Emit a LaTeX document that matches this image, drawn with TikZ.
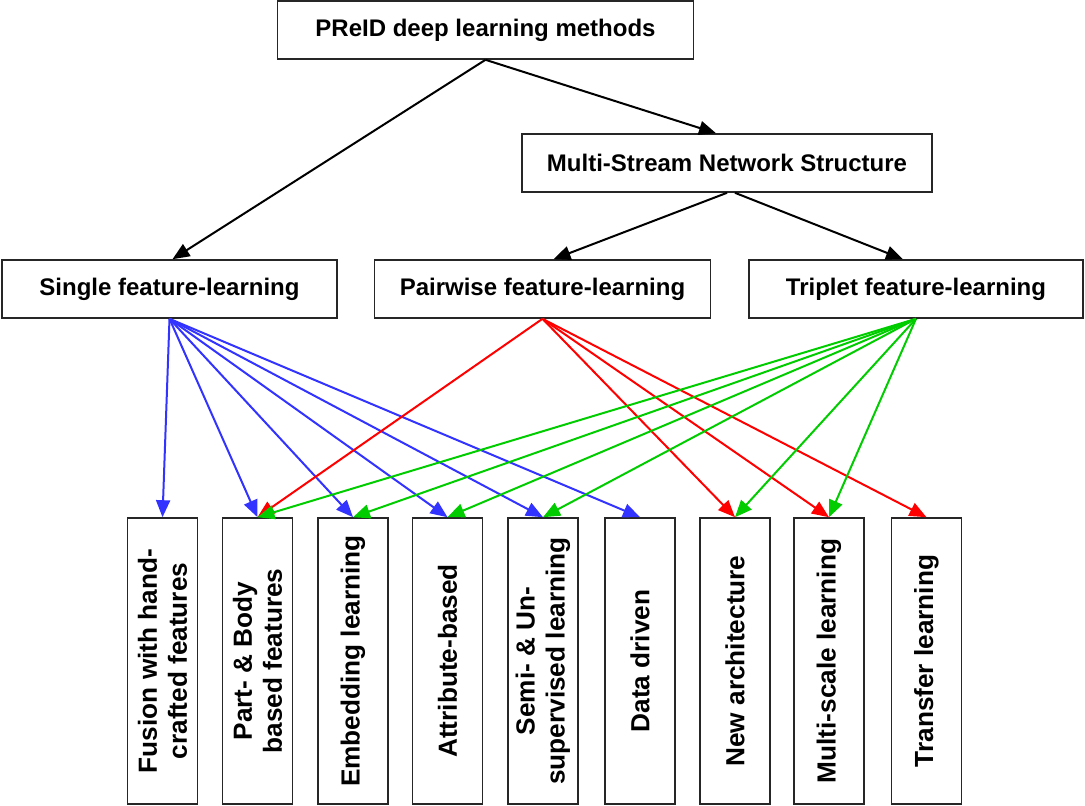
\documentclass[tikz,border=0pt]{standalone}
\usepackage{fontspec}
\setmainfont{Liberation Sans}
\usetikzlibrary{arrows.meta}
\definecolor{cblue}{HTML}{3333FF}
\definecolor{cred}{HTML}{FF0000}
\definecolor{cgreen}{HTML}{00CC00}
\begin{document}
\begin{tikzpicture}[x=1pt,y=-1pt,
  hbox/.style={draw=black!85, line width=1.6pt, inner sep=0pt, minimum height=58pt,
    font=\bfseries\fontsize{24}{28}\selectfont},
  vbox/.style={draw=black!85, line width=1.6pt, inner sep=0pt, rotate=90,
    minimum width=286pt, minimum height=70pt, align=center,
    font=\bfseries\fontsize{26.2}{30}\selectfont},
  conn/.style={line width=2pt, -{Triangle[length=17pt,width=14pt]}},
  blk/.style={conn, draw=black, fill=black},
  blu/.style={conn, draw=cblue, fill=cblue},
  rd/.style={conn, draw=cred, fill=cred},
  grn/.style={conn, draw=cgreen, fill=cgreen}
]
\useasboundingbox (0,0) rectangle (1085,806);
% top level
\node[hbox, minimum width=416pt, minimum height=58pt] (top) at (485.5,30) {PReID deep learning methods};
\node[hbox, minimum width=410pt] (ms) at (727,163) {Multi-Stream Network Structure};
\node[hbox, minimum width=335pt] (s) at (169.5,289) {Single feature-learning};
\node[hbox, minimum width=336pt] (p) at (542.5,289) {Pairwise feature-learning};
\node[hbox, minimum width=334pt] (t) at (916,289) {Triplet feature-learning};
% bottom boxes
\node[vbox] (b1) at (162.5,661) {Fusion with hand-\\crafted features};
\node[vbox] (b2) at (257.5,661) {Part- \& Body\\based features};
\node[vbox] (b3) at (353,661) {Embedding learning};
\node[vbox] (b4) at (447.5,661) {Attribute-based};
\node[vbox] (b5) at (543,661) {Semi- \& Un-\\supervised learning};
\node[vbox] (b6) at (640,661) {Data driven};
\node[vbox] (b7) at (735,661) {New architecture};
\node[vbox] (b8) at (829,661) {Multi-scale learning};
\node[vbox] (b9) at (926.5,661) {Transfer learning};
% black connectors
\draw[blk] (top.south) -- ([xshift=-11pt]ms.north);
\draw[blk] (top.south) -- ([xshift=3pt]s.north);
\draw[blk] (ms.south) -- ([xshift=11pt]p.north);
\draw[blk] ([xshift=8pt]ms.south) -- ([xshift=-13pt]t.north);
% single (blue)
\foreach \b in {b1,b2,b3,b4,b5,b6}
  \draw[blu] (s.south) -- (\b.east);
% pairwise (red)
\foreach \b in {b2,b7,b8,b9}
  \draw[rd] (p.south) -- (\b.east);
% triplet (green)
\foreach \b in {b2,b3,b4,b5,b7,b8}
  \draw[grn] (t.south) -- (\b.east);
\end{tikzpicture}
\end{document}
